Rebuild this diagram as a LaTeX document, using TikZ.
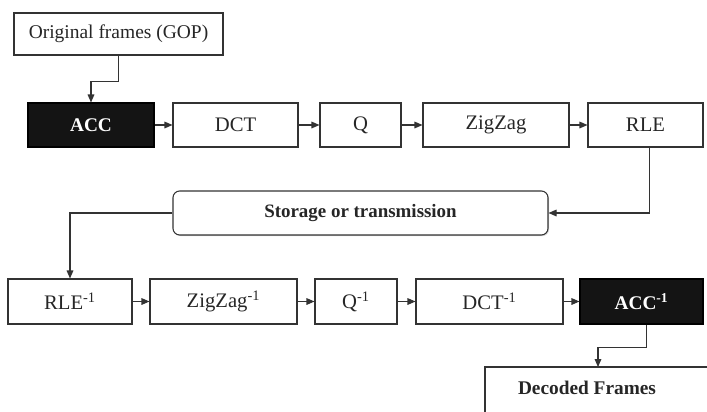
\documentclass[tikz,border=0pt]{standalone}
\usepackage{fontspec}
\setmainfont{Liberation Serif}
\usetikzlibrary{arrows.meta,shadows}
\begin{document}
\begin{tikzpicture}[x=0.75pt,y=-0.75pt,
  sz/.style 2 args={minimum width=#1*0.75pt, minimum height=#2*0.75pt},
  box/.style={draw=black!80, line width=0.8pt, fill=white, inner sep=0pt,
    font=\fontsize{15.5}{18}\selectfont, text=black!85},
  dark/.style={draw=black, fill=black!92, line width=0.8pt, inner sep=0pt,
    text=white, font=\bfseries\fontsize{14.5}{17}\selectfont},
  shbox/.style={box, drop shadow={shadow xshift=1pt, shadow yshift=1pt, fill=black!35}},
  stor/.style={box, rounded corners=5pt, font=\bfseries\fontsize{14.2}{17}\selectfont,
    drop shadow={shadow xshift=0.8pt, shadow yshift=-0.8pt, fill=black!30}},
  arr/.style={draw=black!80, line width=0.8pt, -{Triangle[length=6pt,width=5pt]}}
]
\clip (0,0) rectangle (707,411);
\fill[white] (0,0) rectangle (707,411);

% top
\node[shbox, sz={209}{42}, font=\fontsize{14.6}{17}\selectfont] (orig) at (118.5,34) {Original frames (GOP)};

\node[dark, sz={126}{44}] (acc) at (91,125) {ACC};
\node[box, sz={125}{44}] (dct) at (235.5,125) {DCT};
\node[box, sz={81}{44}] (q) at (360.5,125) {Q};
\node[box, sz={146}{44}] (zz) at (496,125) {ZigZag};
\node[box, sz={115}{44}] (rle) at (645.5,125) {RLE};

\node[stor, sz={375}{44}] (st) at (360.5,213) {Storage or transmission};

% bottom
\node[box, sz={124}{45}] (rle1) at (70,301.5) {RLE\textsuperscript{-1}};
\node[box, sz={147}{45}] (zz1) at (223.5,301.5) {ZigZag\textsuperscript{-1}};
\node[box, sz={82}{45}] (q1) at (356,301.5) {Q\textsuperscript{-1}};
\node[box, sz={147}{45}] (dct1) at (489.5,301.5) {DCT\textsuperscript{-1}};
\node[dark, sz={123}{45}] (acc1) at (641.5,301.5) {ACC\textsuperscript{-1}};

\node[shbox, sz={224}{63}] (dec) at (597,398.5) {};
\node[font=\bfseries\fontsize{14.5}{17}\selectfont, text=black!85] (dect) at (587,388) {Decoded Frames};
\coordinate (decin) at (598,367);

% connectors
\draw[arr] (orig.south) -- ++(0,26) -| (acc.north);
\draw[arr] (acc) -- (dct);
\draw[arr] (dct) -- (q);
\draw[arr] (q) -- (zz);
\draw[arr] (zz) -- (rle);
\draw[arr] (rle.south) ++(4,0) |- (st.east);
\draw[arr] (st.west) -| (rle1.north);
\draw[arr] (rle1) -- (zz1);
\draw[arr] (zz1) -- (q1);
\draw[arr] (q1) -- (dct1);
\draw[arr] (dct1) -- (acc1);
\draw[arr] (acc1.south) ++(5,0) -- ++(0,23) -| (decin);
\end{tikzpicture}
\end{document}
